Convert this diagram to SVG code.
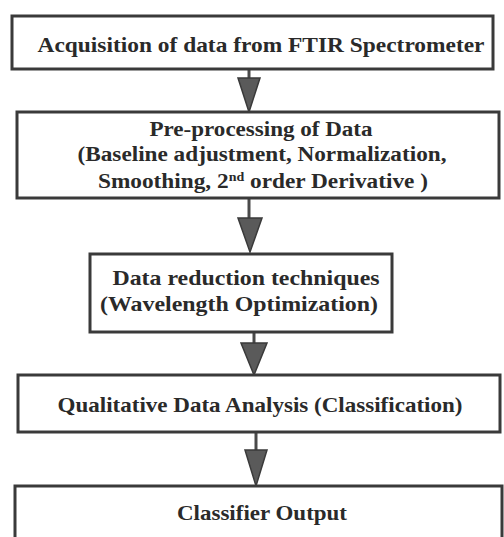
<svg xmlns="http://www.w3.org/2000/svg" width="504" height="537" viewBox="0 0 504 537">
<style>
.box{fill:#ffffff;stroke:#3a3a3a;stroke-width:3}
.t{font-family:"Liberation Serif","Times New Roman",serif;font-weight:bold;font-size:21px;fill:#2a2a2a;text-anchor:middle}
.s{font-size:20px}
.stem{stroke:#4a4a4a;stroke-width:3}
.head{fill:#5a5a5a;stroke:#3a3a3a;stroke-width:1.5}
</style>
<rect width="504" height="537" fill="#ffffff"/>
<g id="connectors">
<line class="stem" x1="249" y1="69" x2="249" y2="80"/>
<polygon class="head" points="238,78 260,78 249,112"/>
<line class="stem" x1="249" y1="198" x2="249" y2="220"/>
<polygon class="head" points="238,218 262,218 250,252"/>
<line class="stem" x1="254" y1="332" x2="254" y2="345"/>
<polygon class="head" points="241,343 267,343 254,375"/>
<line class="stem" x1="256" y1="432" x2="256" y2="452"/>
<polygon class="head" points="245,450 267,450 256,486"/>
</g>
<g id="n1">
<rect class="box" x="12" y="16" width="481" height="53"/>
<text class="t" x="261" y="52" textLength="447" lengthAdjust="spacingAndGlyphs">Acquisition of data from FTIR Spectrometer</text>
</g>
<g id="n2">
<rect class="box" x="17" y="112" width="482" height="86"/>
<text class="t s" x="261" y="136" textLength="223" lengthAdjust="spacingAndGlyphs">Pre-processing of Data</text>
<text class="t s" x="262" y="161" textLength="369" lengthAdjust="spacingAndGlyphs">(Baseline adjustment, Normalization,</text>
<text class="t s" x="263" y="188" textLength="330" lengthAdjust="spacingAndGlyphs">Smoothing, 2<tspan font-size="12" dy="-7">nd</tspan><tspan dy="7"> order Derivative )</tspan></text>
</g>
<g id="n3">
<rect class="box" x="90" y="254" width="302" height="78"/>
<text class="t" x="246" y="285" textLength="267" lengthAdjust="spacingAndGlyphs">Data reduction techniques</text>
<text class="t" x="239" y="311" textLength="278" lengthAdjust="spacingAndGlyphs">(Wavelength Optimization)</text>
</g>
<g id="n4">
<rect class="box" x="18" y="375" width="482" height="57"/>
<text class="t" x="260" y="412" textLength="405" lengthAdjust="spacingAndGlyphs">Qualitative Data Analysis (Classification)</text>
</g>
<g id="n5">
<rect class="box" x="15" y="486" width="487" height="60"/>
<text class="t" x="262" y="520" textLength="170" lengthAdjust="spacingAndGlyphs">Classifier Output</text>
</g>
</svg>
